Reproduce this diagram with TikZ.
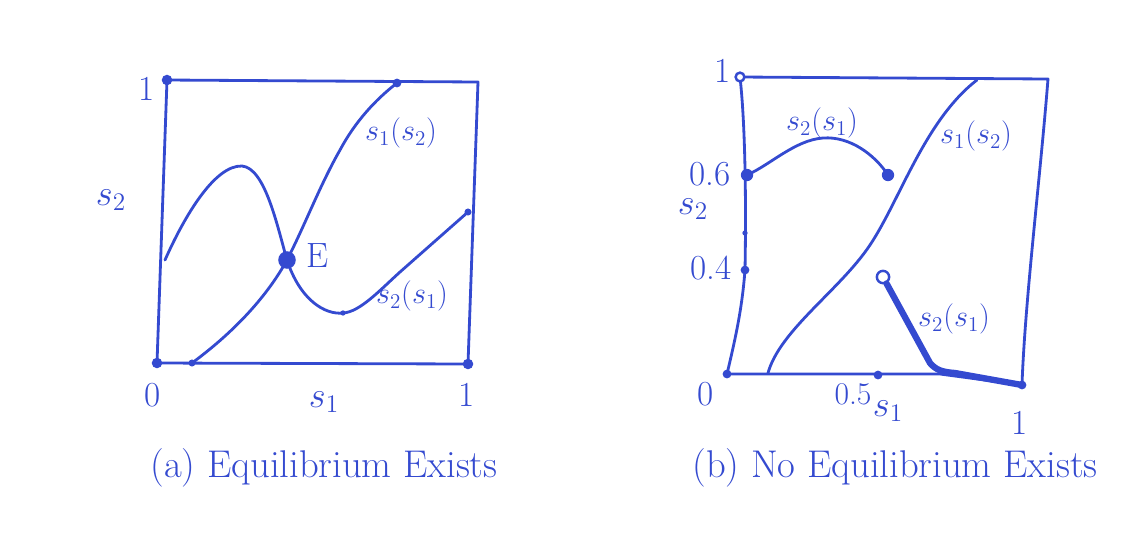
\documentclass[tikz,border=0pt]{standalone}
\usepackage{amsmath,amssymb}
\usepackage{tikz}
\usetikzlibrary{positioning,calc}
\definecolor{pen}{RGB}{52,74,208}

\begin{document}
\begin{tikzpicture}[x=0.02cm, y=-0.02cm,
    pen/.style={draw=pen, line width=1.6pt, line cap=round, line join=round},
    heavy/.style={draw=pen, line width=3.6pt, line cap=round, line join=round},
    dot/.style={circle, fill=pen, inner sep=0pt, minimum size=#1},
    dot/.default=6pt,
    hollow/.style={circle, draw=pen, line width=1.4pt, fill=white, inner sep=0pt, minimum size=7pt},
    lbl/.style={text=pen, inner sep=1pt, font=\fontsize{20}{22}\selectfont},
    curvelbl/.style={text=pen, inner sep=1pt, font=\fontsize{18}{20}\selectfont},
    caption/.style={text=pen, font=\fontsize{22}{25}\selectfont}]
    \useasboundingbox (0,0) rectangle (1134,539);

    % (a) Equilibrium Exists
    \draw[pen] (167,80) -- (478,82) -- (468,364) -- (157,363) -- cycle;
    \node[dot] (atl) at (167,80) {};
    \node[dot] (abl) at (157,363) {};
    \node[dot] (abr) at (468,364) {};
    \node[dot=5pt] (atop) at (397,83) {};
    \node[dot=4pt] (abot) at (192,363) {};
    \node[dot=4pt] (aright) at (468,212) {};
    \node[dot=3pt] (amin) at (343,313) {};
    \node[dot=10pt] (eq) at (287,260) {};

    % s_1(s_2)
    \draw[pen] (abot.center) .. controls (230,335) and (265,300) .. (eq.center)
        .. controls (305,225) and (320,185) .. (340,150)
        .. controls (355,122) and (375,100) .. (atop.center);
    % s_2(s_1)
    \draw[pen] (165,260) .. controls (185,215) and (215,165) .. (242,166)
        .. controls (265,168) and (277,225) .. (eq.center)
        .. controls (300,300) and (325,315) .. (amin.center)
        .. controls (360,312) and (380,290) .. (400,272) -- (aright.center);

    \node[lbl] (a1) at (147,89) {1};
    \node[lbl] (a0) at (153,395) {0};
    \node[lbl] (aone) at (467,395) {1};
    \node[lbl] (as2) at (111,200) {$s_2$};
    \node[lbl] (as1) at (324,402) {$s_1$};
    \node[lbl] (aE) at (318,256) {E};
    \node[curvelbl] (as1s2) at (401,133) {$s_1(s_2)$};
    \node[curvelbl] (as2s1) at (412,296) {$s_2(s_1)$};
    \node[caption] (capa) at (324,468) {(a) Equilibrium Exists};

    % (b) No Equilibrium Exists
    \draw[pen] (740,77) -- (1048,79)
        .. controls (1040,180) and (1025,300) .. (1022,385)
        -- (940,374) -- (727,374)
        .. controls (735,340) and (742,310) .. (745,270)
        .. controls (746,220) and (746,130) .. (740,77);
    \node[hollow, minimum size=5pt] (btl) at (740,77) {};
    \node[dot=7pt] (b6) at (747,175) {};
    \node[dot=5pt] (b4) at (745,270) {};
    \node[dot=3pt] (bmid) at (745,233) {};
    \node[dot=5pt] (bbl) at (727,374) {};
    \node[dot=5pt] (bhalf) at (878,375) {};
    \node[dot=5pt] (bbr) at (1022,385) {};

    % s_1(s_2)
    \draw[pen] (768,373) .. controls (780,330) and (840,290) .. (870,245)
        .. controls (900,200) and (925,120) .. (977,80);
    % s_2(s_1), upper piece
    \node[dot=7pt] (bend) at (888,175) {};
    \draw[pen] (b6.center) .. controls (770,165) and (795,140) .. (823,138)
        .. controls (850,136) and (875,155) .. (bend.center);
    % s_2(s_1), lower piece
    \node[hollow] (bopen) at (883,277) {};
    \draw[heavy] (bopen) -- (930,363) .. controls (936,370) and (942,372) .. (955,373) -- (bbr.center);

    \node[lbl] (b1) at (723,71) {1};
    \node[lbl] (bsix) at (710,174) {0.6};
    \node[lbl] (bs2) at (693,209) {$s_2$};
    \node[lbl] (bfour) at (711,268) {0.4};
    \node[lbl] (b0) at (706,394) {0};
    \node[curvelbl] (bhalflbl) at (853,394) {0.5};
    \node[lbl] (bs1) at (888,411) {$s_1$};
    \node[lbl] (bone) at (1020,423) {1};
    \node[curvelbl] (bup) at (822,123) {$s_2(s_1)$};
    \node[curvelbl] (bs1s2) at (976,136) {$s_1(s_2)$};
    \node[curvelbl] (blow) at (954,319) {$s_2(s_1)$};
    \node[caption] (capb) at (895,468) {(b) No Equilibrium Exists};
\end{tikzpicture}
\end{document}
